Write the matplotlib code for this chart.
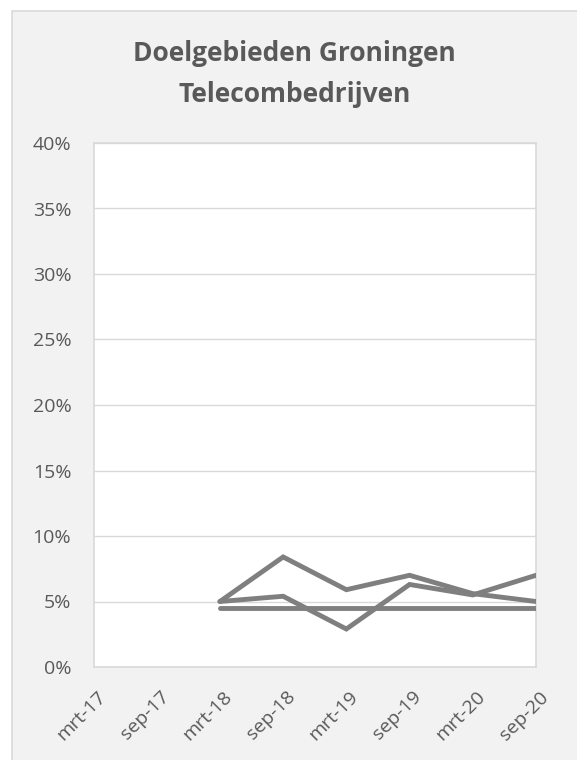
# Doelgebieden Groningen - Telecombedrijven
# lijngrafiek naar voorbeeld van een Excel-grafiek

import numpy as np
import matplotlib.pyplot as plt
import matplotlib.transforms as mtransforms
from matplotlib.patches import Rectangle
from matplotlib.ticker import MultipleLocator, PercentFormatter

plt.rcParams['font.family'] = ['Open Sans', 'DejaVu Sans']

# data (percentages)
categories = ['mrt-17', 'sep-17', 'mrt-18', 'sep-18',
              'mrt-19', 'sep-19', 'mrt-20', 'sep-20']
serie_1 = [np.nan, np.nan, 5.0, 8.4, 5.9, 7.0, 5.6, 5.0]
serie_2 = [np.nan, np.nan, 5.0, 5.4, 2.9, 6.3, 5.5, 7.0]
doel = [np.nan, np.nan, 4.5, 4.5, 4.5, 4.5, 4.5, 4.5]

title = "Doelgebieden Groningen\nTelecombedrijven"

TEXT = '#595959'
LINE = '#7F7F7F'
GRID = '#D9D9D9'
BG = '#F2F2F2'

W, H = 577, 760
fig = plt.figure(figsize=(W / 100, H / 100), dpi=100)
fig.patch.set_facecolor('white')

# grijze grafiekachtergrond met rand (loopt door voorbij rechter- en onderrand)
fig.patches.append(Rectangle((12 / W, -0.1), 1.2, 1.1 - 11 / H,
                             transform=fig.transFigure,
                             facecolor=BG, edgecolor=GRID, linewidth=1.2,
                             zorder=-1))

left, right, top, bottom = 93.5, 536, 143, 667
ax = fig.add_axes([left / W, 1 - bottom / H, (right - left) / W, (bottom - top) / H])
ax.set_zorder(1)
ax.set_facecolor('white')

x = np.arange(len(categories))
for serie in (doel, serie_1, serie_2):
    ax.plot(x, serie, color=LINE, linewidth=3.5, solid_capstyle='round',
            solid_joinstyle='miter', zorder=3)

ax.set_xlim(0, len(categories) - 1)
ax.set_ylim(0, 40)
ax.yaxis.set_major_locator(MultipleLocator(5))
ax.yaxis.set_major_formatter(PercentFormatter(decimals=0))
ax.grid(axis='y', color=GRID, linewidth=1.0)
ax.set_axisbelow(True)

for s in ax.spines.values():
    s.set_color(GRID)
    s.set_linewidth(1.2)

ax.set_xticks(x)
ax.set_xticklabels(categories, rotation=45, ha='right', va='top',
                   rotation_mode='anchor')
ax.tick_params(axis='both', length=0, colors=TEXT, labelsize=14)
ax.tick_params(axis='x', pad=15)
ax.tick_params(axis='y', pad=16)

# labels iets naar rechts schuiven, zoals in Excel
shift = mtransforms.ScaledTranslation(3 / 100, 0, fig.dpi_scale_trans)
for lab in ax.get_xticklabels():
    lab.set_transform(lab.get_transform() + shift)

fig.text(0.5 * (12 + W) / W, 1 - 74 / H, title, ha='center', va='center',
         fontsize=19, fontweight='bold', color=TEXT, linespacing=1.7)

fig.savefig('out.png', dpi=100)
